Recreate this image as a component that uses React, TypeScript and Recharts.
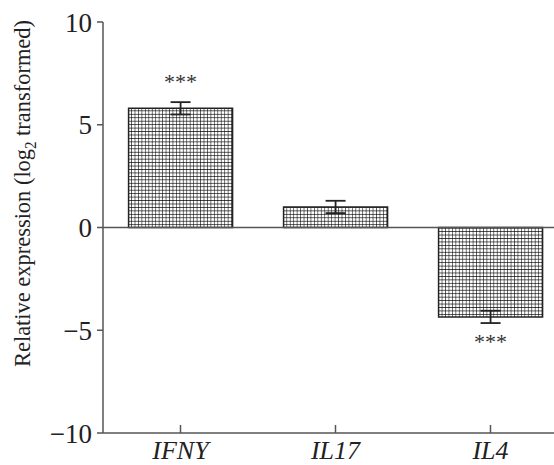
import React from "react";
import {
  BarChart,
  Bar,
  XAxis,
  YAxis,
  ReferenceLine,
  ErrorBar,
  LabelList,
} from "recharts";

const genes = ["IFNY", "IL17", "IL4"];
const expression = [5.8, 1.0, -4.35];
const errors = [0.3, 0.3, 0.3];
const stars = ["***", "", "***"];
const yTicks = [-10, -5, 0, 5, 10];

const data = genes.map((g, i) => ({
  gene: g,
  value: expression[i],
  err: errors[i],
  sig: stars[i],
}));

const SERIF = "Liberation Serif, Times New Roman, Times, serif";
const AXIS = "#555";

function GeneTick(props: any) {
  const { x, y, payload } = props;
  return (
    <g>
      <line x1={x} x2={x} y1={y - 8} y2={y} stroke={AXIS} strokeWidth={1.5} />
      <text
        x={x}
        y={y + 26}
        textAnchor="middle"
        style={{ fontFamily: SERIF, fontStyle: "italic", fontSize: 26 }}
        fill="#222"
      >
        {payload.value}
      </text>
    </g>
  );
}

function YLabel(props: any) {
  const { viewBox } = props;
  const cx = viewBox.x + 22;
  const cy = viewBox.y + viewBox.height / 2 - 34;
  return (
    <text
      x={cx}
      y={cy}
      transform={`rotate(-90, ${cx}, ${cy})`}
      textAnchor="middle"
      dominantBaseline="central"
      textLength={347}
      lengthAdjust="spacingAndGlyphs"
      style={{ fontFamily: SERIF, fontSize: 24 }}
      fill="#222"
    >
      Relative expression (log
      <tspan baselineShift="sub" style={{ fontSize: 16 }}>2</tspan>
      <tspan> transformed)</tspan>
    </text>
  );
}

export default function App() {
  const renderStar = (props: any) => {
    const { x, y, width, height, index } = props;
    const label = stars[index];
    if (!label) return null;
    const negative = expression[index] < 0;
    const top = Math.min(y, y + height);
    const bottom = Math.max(y, y + height);
    const ty = negative ? bottom + 32 : top - 19;
    return (
      <text
        x={x + width / 2}
        y={ty}
        textAnchor="middle"
        style={{ fontFamily: SERIF, fontSize: 22 }}
        fill="#333"
      >
        {label}
      </text>
    );
  };

  return (
    <div
      style={{
        position: "absolute",
        left: 0,
        top: 0,
        width: 554,
        height: 465,
        overflow: "hidden",
        background: "#fff",
      }}
    >
      <BarChart
        width={570}
        height={465}
        data={data}
        margin={{ top: 22, right: 2, bottom: 0, left: 0 }}
        barCategoryGap="16.5%"
      >
        <defs>
          <pattern id="grid" width={3.45} height={3.45} patternUnits="userSpaceOnUse">
            <rect width={3.45} height={3.45} fill="#fff" />
            <path d="M0 0 H3.45 M0 0 V3.45" stroke="#000" strokeWidth={1.1} />
          </pattern>
        </defs>
        <XAxis
          dataKey="gene"
          height={32}
          axisLine={{ stroke: AXIS, strokeWidth: 1.5 }}
          tickLine={false}
          tickSize={0}
          tickMargin={0}
          tick={<GeneTick />}
          interval={0}
        />
        <YAxis
          width={103}
          domain={[-10, 10]}
          ticks={yTicks}
          axisLine={{ stroke: AXIS, strokeWidth: 1.5 }}
          tickLine={{ stroke: AXIS, strokeWidth: 1.5 }}
          tickSize={6}
          tickMargin={5}
          tick={{ fontFamily: SERIF, fontSize: 27, fill: "#222" }}
          tickFormatter={(v: number) => (v < 0 ? `\u2212${Math.abs(v)}` : `${v}`)}
          label={<YLabel />}
        />
        <ReferenceLine y={0} stroke={AXIS} strokeWidth={1.5} />
        <Bar
          dataKey="value"
          fill="url(#grid)"
          stroke="#222"
          strokeWidth={1.5}
          isAnimationActive={false}
        >
          <ErrorBar dataKey="err" width={10} stroke="#222" strokeWidth={1.8} />
          <LabelList dataKey="sig" content={renderStar} />
        </Bar>
      </BarChart>
    </div>
  );
}
